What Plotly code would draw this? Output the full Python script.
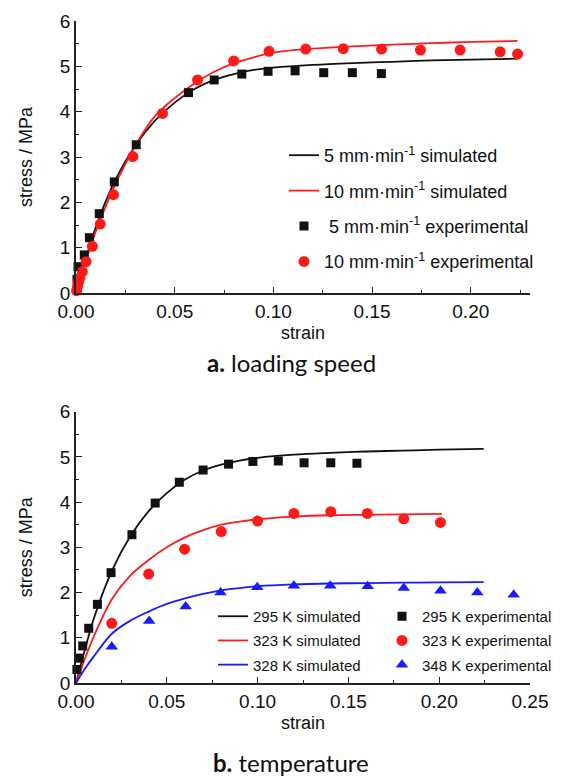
import plotly.graph_objects as go

# ---------------- (a) loading speed ----------------
sim5_strain = [0, 0.005, 0.01, 0.02, 0.03, 0.04, 0.05, 0.06, 0.07, 0.08, 0.09, 0.10, 0.12, 0.14, 0.16, 0.18, 0.20, 0.2237]
sim5_stress = [0, 0.75, 1.45, 2.5, 3.25, 3.8, 4.2, 4.5, 4.7, 4.83, 4.92, 4.97, 5.03, 5.07, 5.10, 5.13, 5.15, 5.17]

sim10_strain = [0, 0.005, 0.01, 0.02, 0.03, 0.04, 0.05, 0.06, 0.07, 0.08, 0.09, 0.10, 0.12, 0.14, 0.16, 0.18, 0.20, 0.2237]
sim10_stress = [0, 0.7, 1.35, 2.4, 3.25, 3.9, 4.3, 4.62, 4.88, 5.07, 5.2, 5.3, 5.39, 5.44, 5.48, 5.51, 5.54, 5.56]

exp5_strain = [0.0005, 0.001, 0.0042, 0.0068, 0.0118, 0.0194, 0.0305, 0.057, 0.070, 0.084, 0.0973, 0.111, 0.1255, 0.14, 0.1547]
exp5_stress = [0.3, 0.58, 0.84, 1.22, 1.75, 2.45, 3.27, 4.42, 4.70, 4.83, 4.89, 4.90, 4.86, 4.86, 4.84]

exp10_strain = [0.0003, 0.0008, 0.0013, 0.002, 0.0032, 0.0051, 0.0083, 0.0123, 0.019, 0.0288, 0.0438, 0.0616,
                0.0799, 0.0978, 0.1164, 0.1354, 0.1548, 0.1745, 0.1946, 0.2149, 0.2237]
exp10_stress = [0.05, 0.15, 0.25, 0.33, 0.47, 0.69, 1.03, 1.52, 2.17, 3.01, 3.96, 4.70,
                5.12, 5.33, 5.38, 5.39, 5.38, 5.36, 5.36, 5.32, 5.27]

# ---------------- (b) temperature ----------------
sim295_strain = [0, 0.005, 0.01, 0.02, 0.03, 0.04, 0.05, 0.06, 0.07, 0.08, 0.09, 0.10, 0.12, 0.14, 0.16, 0.18, 0.20, 0.2245]
sim295_stress = [0, 0.75, 1.45, 2.5, 3.25, 3.8, 4.2, 4.5, 4.7, 4.83, 4.92, 4.98, 5.05, 5.09, 5.12, 5.14, 5.16, 5.18]

sim323_strain = [0, 0.005, 0.01, 0.02, 0.03, 0.04, 0.05, 0.06, 0.07, 0.08, 0.09, 0.10, 0.12, 0.14, 0.16, 0.18, 0.2015]
sim323_stress = [0, 0.55, 1.05, 1.87, 2.38, 2.72, 3.0, 3.22, 3.38, 3.5, 3.57, 3.62, 3.68, 3.71, 3.72, 3.73, 3.74]

sim328_strain = [0, 0.005, 0.01, 0.02, 0.03, 0.04, 0.05, 0.06, 0.07, 0.08, 0.09, 0.10, 0.12, 0.14, 0.16, 0.18, 0.20, 0.2245]
sim328_stress = [0, 0.32, 0.6, 1.1, 1.38, 1.58, 1.75, 1.87, 1.97, 2.05, 2.1, 2.14, 2.18, 2.2, 2.21, 2.22, 2.225, 2.23]

exp295_strain = [0.0005, 0.0018, 0.0037, 0.007, 0.0118, 0.0193, 0.0308, 0.0436, 0.0569, 0.07, 0.084, 0.0974,
                 0.1114, 0.1256, 0.1403, 0.1547]
exp295_stress = [0.3, 0.55, 0.82, 1.21, 1.74, 2.44, 3.28, 3.98, 4.44, 4.71, 4.84, 4.90, 4.91, 4.87, 4.87, 4.86]

exp323_strain = [0.0197, 0.04, 0.0598, 0.08, 0.1, 0.12, 0.1403, 0.1604, 0.1805, 0.2007]
exp323_stress = [1.32, 2.41, 2.96, 3.35, 3.58, 3.75, 3.79, 3.75, 3.63, 3.55]

exp348_strain = [0.0197, 0.0403, 0.0604, 0.0796, 0.0998, 0.12, 0.14, 0.1606, 0.1805, 0.2007, 0.221, 0.241]
exp348_stress = [0.80, 1.37, 1.69, 2.0, 2.12, 2.15, 2.15, 2.14, 2.1, 2.04, 2.0, 1.95]

W, H = 565, 776
ML, MR, MT, MB = 76, 35, 21, 93
PW, PH = W - ML - MR, H - MT - MB
FONT = "Liberation Sans, Arial, sans-serif"
CAPFONT = "Lato, Noto Sans, sans-serif"
BLACK, RED, BLUE = "#111111", "#ff1a1a", "#1a1aff"
sup = "<sup>-1</sup>"


def fx(px):
    return (px - ML) / PW


def fy(py):
    return (H - MB - py) / PH


fig = go.Figure()

# top panel
fig.add_trace(go.Scatter(x=sim5_strain, y=sim5_stress, mode="lines", line=dict(color=BLACK, width=1.8, shape="spline"),
                         name="5 mm·min" + sup + " simulated", legend="legend", legendgroup="a1", xaxis="x", yaxis="y"))
fig.add_trace(go.Scatter(x=sim10_strain, y=sim10_stress, mode="lines", line=dict(color=RED, width=1.8, shape="spline"),
                         name="10 mm·min" + sup + " simulated", legend="legend", legendgroup="a2", xaxis="x", yaxis="y"))
fig.add_trace(go.Scatter(x=exp5_strain, y=exp5_stress, mode="markers", cliponaxis=False,
                         marker=dict(symbol="square", size=9, color=BLACK),
                         name=" 5 mm·min" + sup + " experimental", legend="legend", legendgroup="a3", xaxis="x", yaxis="y"))
fig.add_trace(go.Scatter(x=exp10_strain, y=exp10_stress, mode="markers", cliponaxis=False,
                         marker=dict(symbol="circle", size=11, color=RED),
                         name="10 mm·min" + sup + " experimental", legend="legend", legendgroup="a4", xaxis="x", yaxis="y"))

# bottom panel
fig.add_trace(go.Scatter(x=sim295_strain, y=sim295_stress, mode="lines", line=dict(color=BLACK, width=1.8, shape="spline"),
                         name="295 K simulated", legend="legend2", legendgroup="b1", xaxis="x2", yaxis="y2"))
fig.add_trace(go.Scatter(x=sim323_strain, y=sim323_stress, mode="lines", line=dict(color=RED, width=1.8, shape="spline"),
                         name="323 K simulated", legend="legend2", legendgroup="b2", xaxis="x2", yaxis="y2"))
fig.add_trace(go.Scatter(x=sim328_strain, y=sim328_stress, mode="lines", line=dict(color=BLUE, width=1.8, shape="spline"),
                         name="328 K simulated", legend="legend2", legendgroup="b3", xaxis="x2", yaxis="y2"))
fig.add_trace(go.Scatter(x=exp295_strain, y=exp295_stress, mode="markers", cliponaxis=False,
                         marker=dict(symbol="square", size=9, color=BLACK),
                         name="295 K experimental", legend="legend3", legendgroup="c1", xaxis="x2", yaxis="y2"))
fig.add_trace(go.Scatter(x=exp323_strain, y=exp323_stress, mode="markers", cliponaxis=False,
                         marker=dict(symbol="circle", size=11, color=RED),
                         name="323 K experimental", legend="legend3", legendgroup="c2", xaxis="x2", yaxis="y2"))
fig.add_trace(go.Scatter(x=exp348_strain, y=exp348_stress, mode="markers", cliponaxis=False,
                         marker=dict(symbol="triangle-up", size=11, color=BLUE),
                         name="348 K experimental", legend="legend3", legendgroup="c3", xaxis="x2", yaxis="y2"))


def xax(rng, anchor):
    return dict(domain=[0, 1], range=rng, anchor=anchor, showgrid=False, zeroline=False, automargin=False,
                showline=True, linecolor="#222", linewidth=1.5, ticks="inside", ticklen=6, tickwidth=1.3,
                tickcolor="#222", dtick=0.05, tick0=0, tickformat=".2f",
                minor=dict(ticks="inside", ticklen=3, dtick=0.025, tickcolor="#222", tickwidth=1.2),
                tickfont=dict(family=FONT, size=19, color="#111"),
                title=dict(text="strain", font=dict(family=FONT, size=18, color="#111"), standoff=6))


def yax(dom, anchor):
    return dict(domain=dom, range=[0, 6], anchor=anchor, showgrid=False, zeroline=False, automargin=False,
                showline=True, linecolor="#222", linewidth=1.5, ticks="inside", ticklen=6, tickwidth=1.3,
                tickcolor="#222", dtick=1, tick0=0,
                minor=dict(ticks="inside", ticklen=3, dtick=0.5, tickcolor="#222", tickwidth=1.2),
                tickfont=dict(family=FONT, size=19, color="#111"),
                title=dict(text="stress / MPa", font=dict(family=FONT, size=18, color="#111"), standoff=23))


legfont = dict(family=FONT, color="#111")
fig.update_layout(
    width=W, height=H, margin=dict(l=ML, r=MR, t=MT, b=MB, autoexpand=False),
    paper_bgcolor="white", plot_bgcolor="white",
    xaxis=xax([0, 0.23], "y"),
    yaxis=yax([fy(293), 1], "x"),
    xaxis2=xax([0, 0.25], "y2"),
    yaxis2=yax([0, fy(411.7)], "x2"),
    legend=dict(x=fx(284), y=fy(137), xanchor="left", yanchor="top", bgcolor="rgba(0,0,0,0)",
                font=dict(size=18, **legfont), tracegroupgap=9, traceorder="grouped"),
    legend2=dict(x=fx(213), y=fy(600), xanchor="left", yanchor="top", bgcolor="rgba(0,0,0,0)",
                 font=dict(size=15, **legfont), tracegroupgap=1.7, traceorder="grouped"),
    legend3=dict(x=fx(382), y=fy(600), xanchor="left", yanchor="top", bgcolor="rgba(0,0,0,0)",
                 font=dict(size=15, **legfont), tracegroupgap=1.7, traceorder="grouped"),
    showlegend=True,
    annotations=[
        dict(text="<b>a.</b> loading speed", x=fx(291), y=fy(362), xref="paper", yref="paper",
             xanchor="center", yanchor="middle", showarrow=False,
             font=dict(family=CAPFONT, size=24, color="#111")),
        dict(text="<b>b.</b> temperature", x=fx(291), y=fy(762), xref="paper", yref="paper",
             xanchor="center", yanchor="middle", showarrow=False,
             font=dict(family=CAPFONT, size=24, color="#111")),
    ],
)

fig.write_html("out.html")
